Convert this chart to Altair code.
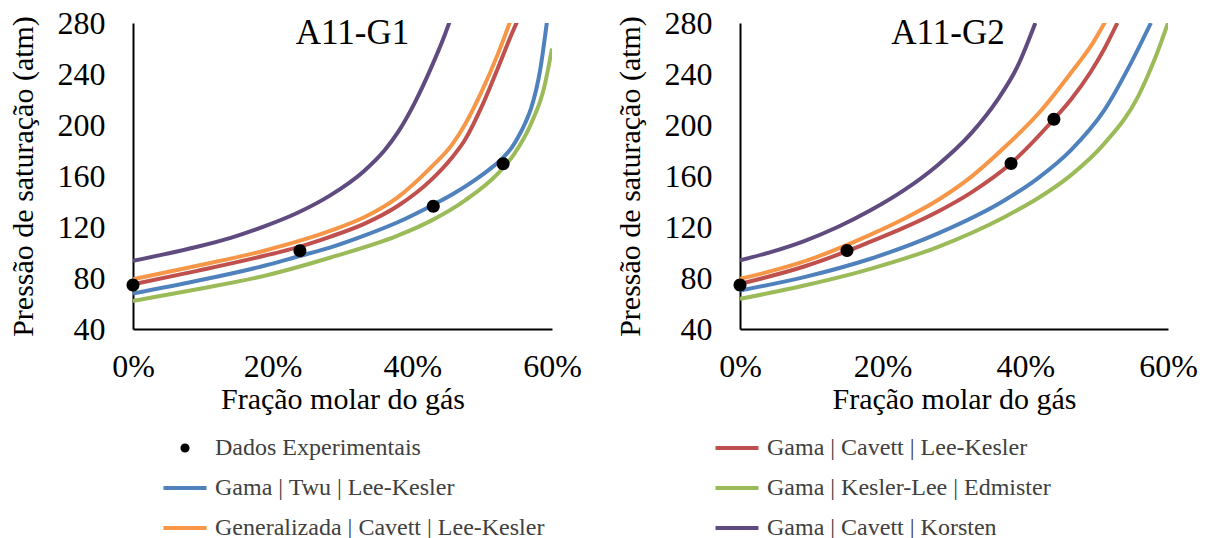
import altair as alt
import pandas as pd

# Series names; the legend fills its two columns top to bottom
SERIES = [
    "Dados Experimentais",
    "Gama | Twu | Lee-Kesler",
    "Generalizada | Cavett | Lee-Kesler",
    "Gama | Cavett | Lee-Kesler",
    "Gama | Kesler-Lee | Edmister",
    "Gama | Cavett | Korsten",
]
COLORS = ["#000000", "#4F81BD", "#F79646", "#C0504D", "#9BBB59", "#5F4B7F"]
EXP, TWU, GEN, LK, EDM, KOR = SERIES

# --- A11-G1: gas molar fraction (%) and saturation pressure (atm) ---
g1_exp_x = [0.0, 23.9, 43.0, 53.0]
g1_exp_p = [74.6, 101.4, 136.3, 169.6]

g1_lk_x = [0.0, 9.2, 18.8, 23.5, 28.3, 33.1, 37.9, 42.7, 45.6, 47.5, 49.9, 52.2, 54.2, 55.4]
g1_lk_p = [75.1, 85.6, 97.4, 104.0, 112.5, 122.5, 136.5, 157.0, 174.0, 188.0, 214.0, 244.0, 271.0, 286.0]

g1_twu_x = [0.0, 9.2, 18.8, 23.5, 28.3, 33.1, 37.9, 43.0, 46.0, 49.0, 51.0, 53.0, 54.2, 55.1, 56.2, 57.0, 58.3, 59.3]
g1_twu_p = [67.8, 77.8, 89.6, 96.7, 104.0, 113.2, 123.7, 137.5, 146.5, 157.0, 165.0, 174.5, 182.0, 190.0, 202.0, 213.0, 243.0, 282.0]

g1_edm_x = [0.0, 9.2, 18.8, 28.3, 37.9, 42.7, 47.5, 52.2, 54.6, 57.0, 58.9, 60.0]
g1_edm_p = [62.0, 71.2, 81.7, 96.1, 113.2, 125.0, 140.7, 161.7, 177.4, 201.0, 229.9, 260.0]

g1_gen_x = [0.0, 9.2, 18.8, 28.3, 33.1, 37.9, 42.7, 45.6, 47.5, 49.9, 52.2, 54.2]
g1_gen_p = [79.0, 89.6, 101.4, 117.1, 127.6, 143.3, 167.0, 184.0, 200.0, 226.0, 255.0, 284.0]

g1_kor_x = [0.0, 4.4, 9.2, 14.0, 18.8, 23.5, 28.3, 33.1, 36.0, 37.9, 40.3, 42.7, 44.6, 45.6]
g1_kor_p = [93.5, 98.5, 104.5, 111.5, 120.5, 131.0, 145.0, 164.0, 180.0, 194.0, 217.0, 245.0, 270.0, 285.0]

# --- A11-G2 ---
g2_exp_x = [0.0, 15.0, 38.0, 44.0]
g2_exp_p = [74.6, 101.6, 169.8, 204.5]

g2_lk_x = [0.0, 9.0, 15.0, 18.3, 23.0, 27.7, 32.4, 38.0, 44.0, 46.4, 49.2, 51.1, 52.9]
g2_lk_p = [75.4, 89.0, 101.0, 108.5, 119.5, 132.0, 147.0, 170.0, 204.5, 220.0, 242.0, 260.0, 280.0]

g2_twu_x = [0.0, 9.0, 18.3, 27.7, 37.1, 41.7, 46.4, 51.1, 54.8, 57.6]
g2_twu_p = [70.2, 80.7, 95.1, 114.8, 141.0, 158.0, 180.3, 211.8, 248.5, 280.0]

g2_edm_x = [0.0, 9.0, 18.3, 27.7, 37.1, 41.7, 46.4, 51.1, 55.8, 58.1, 60.0]
g2_edm_p = [63.6, 74.1, 87.2, 104.3, 127.9, 142.3, 160.7, 185.6, 222.3, 251.1, 280.0]

g2_gen_x = [0.0, 9.0, 18.3, 23.0, 27.7, 32.4, 36.6, 42.3, 46.4, 49.2, 51.5]
g2_gen_p = [79.3, 93.0, 114.0, 126.5, 141.0, 159.3, 180.0, 212.0, 241.0, 262.0, 284.0]

g2_kor_x = [0.0, 4.3, 9.0, 13.7, 18.3, 23.0, 27.7, 32.4, 36.1, 38.9, 41.4]
g2_kor_p = [93.8, 100.3, 109.0, 120.0, 133.1, 148.9, 168.5, 193.4, 219.7, 245.9, 280.0]

X_TICKS = [0.0, 0.2, 0.4, 0.6]
Y_TICKS = [40, 80, 120, 160, 200, 240, 280]

SERIF = "Liberation Serif"


def curves(pairs):
    frames = []
    for name, xs, ps in pairs:
        frames.append(pd.DataFrame({"serie": name, "x": [v / 100 for v in xs], "p": ps}))
    return pd.concat(frames, ignore_index=True)


color_scale = alt.Scale(domain=SERIES, range=COLORS)
# small filled dot for the experimental data, plain stroke for the models
DOT = "M -0.12 0 A 0.12 0.12 0 1 0 0.12 0 A 0.12 0.12 0 1 0 -0.12 0 Z"
shape_scale = alt.Scale(domain=SERIES, range=[DOT] + ["stroke"] * 5)

legend = alt.Legend(
    title=None,
    orient="none",
    legendX=28,
    legendY=401,
    columns=2,
    columnPadding=162,
    rowPadding=4,
    symbolSize=1850,
    symbolStrokeWidth=4,
    labelFont=SERIF,
    labelFontSize=24,
    labelColor="#404040",
    labelOffset=6,
    labelLimit=0,
)


def panel(title, title_dx, width, exp_x, exp_p, lines):
    line_df = curves(lines)
    dot_df = pd.DataFrame({"serie": EXP, "x": [v / 100 for v in exp_x], "p": exp_p})

    x_enc = alt.X(
        "x:Q",
        scale=alt.Scale(domain=[0, 0.6], nice=False),
        axis=alt.Axis(
            values=X_TICKS, format=".0%", title="Fração molar do gás",
            ticks=False, grid=False, labelFlush=False, labelPadding=22, titlePadding=2,
        ),
    )
    y_enc = alt.Y(
        "p:Q",
        scale=alt.Scale(domain=[40, 280], nice=False),
        axis=alt.Axis(
            values=Y_TICKS, title="Pressão de saturação (atm)",
            ticks=False, grid=False, labelFlush=False, labelPadding=28, titlePadding=19,
        ),
    )

    lines_layer = alt.Chart(line_df).mark_line(
        strokeWidth=4, interpolate="monotone", clip=True
    ).encode(
        x=x_enc, y=y_enc,
        color=alt.Color("serie:N", scale=color_scale, legend=legend),
        detail="serie:N",
    )
    dots_layer = alt.Chart(dot_df).mark_point(
        filled=True, opacity=1, size=11700, strokeWidth=0
    ).encode(
        x="x:Q", y="p:Q",
        color=alt.Color("serie:N", scale=color_scale, legend=legend),
        shape=alt.Shape("serie:N", scale=shape_scale, legend=legend),
    )
    return alt.layer(lines_layer, dots_layer).properties(
        width=width, height=306,
        title=alt.TitleParams(
            title, anchor="middle", frame="group", offset=-44, dx=title_dx,
            font=SERIF, fontSize=35, fontWeight="normal", color="#000000",
        ),
    )


left = panel("A11-G1", 10, 419, g1_exp_x, g1_exp_p, [
    (LK, g1_lk_x, g1_lk_p),
    (TWU, g1_twu_x, g1_twu_p),
    (EDM, g1_edm_x, g1_edm_p),
    (GEN, g1_gen_x, g1_gen_p),
    (KOR, g1_kor_x, g1_kor_p),
])
right = panel("A11-G2", -6, 428, g2_exp_x, g2_exp_p, [
    (LK, g2_lk_x, g2_lk_p),
    (TWU, g2_twu_x, g2_twu_p),
    (EDM, g2_edm_x, g2_edm_p),
    (GEN, g2_gen_x, g2_gen_p),
    (KOR, g2_kor_x, g2_kor_p),
])

chart = alt.hconcat(left, right, spacing=32).properties(
    padding={"left": 7, "top": 7, "right": 5, "bottom": 0},
    background="white",
).configure_view(stroke=None).configure_axis(
    domainColor="#000000", domainWidth=2,
    labelFont=SERIF, labelFontSize=32, labelColor="#000000",
    titleFont=SERIF, titleFontSize=30, titleFontWeight="normal", titleColor="#000000",
).configure_legend(
    labelFont=SERIF, labelFontSize=24, labelColor="#404040",
)

chart.save("out.html", embed_options={"renderer": "svg", "actions": False})
